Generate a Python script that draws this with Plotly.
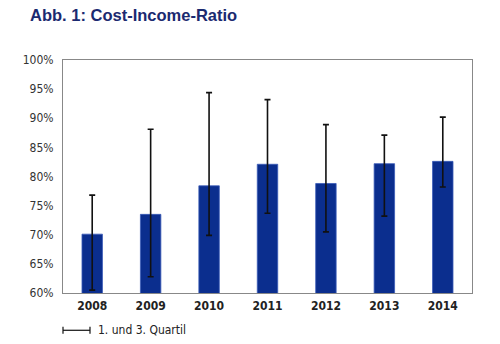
import plotly.graph_objects as go

years = ["2008", "2009", "2010", "2011", "2012", "2013", "2014"]
median = [70.1, 73.5, 78.4, 82.1, 78.8, 82.2, 82.6]
q3 = [76.8, 88.1, 94.4, 93.2, 88.9, 87.1, 90.2]
q1 = [60.5, 62.8, 69.9, 73.7, 70.5, 73.2, 78.2]
yticks = [60, 65, 70, 75, 80, 85, 90, 95, 100]
ytick_text = [f"{v}%" for v in yticks]

err_plus = [h - m for h, m in zip(q3, median)]
err_minus = [m - l for m, l in zip(median, q1)]

font_narrow = "DejaVu Sans Condensed, Liberation Sans Narrow, sans-serif"

fig = go.Figure()
fig.add_trace(go.Bar(
    x=years, y=median, width=0.35,
    marker=dict(color="#0b2e8e", line=dict(color="#3a5ab8", width=0.8)),
    error_y=dict(type="data", symmetric=False, array=err_plus, arrayminus=err_minus,
                 color="#111111", thickness=1.6, width=3),
    showlegend=False,
))

fig.update_layout(
    width=500, height=344,
    margin=dict(l=63, r=28, t=60, b=51),
    paper_bgcolor="white", plot_bgcolor="white",
    bargap=0.65,
    title=dict(text="<b>Abb. 1: Cost-Income-Ratio</b>", x=0.06, xanchor="left",
               y=0.955, yanchor="middle",
               font=dict(family="Liberation Sans, Arial, sans-serif", size=16.5, color="#1b2a70")),
    xaxis=dict(showline=True, linecolor="#888888", linewidth=1, mirror=True,
               ticks="", ticklabelstandoff=2,
               tickfont=dict(family=font_narrow, size=12, color="#222222"),
               tickprefix="<b>", ticksuffix="</b>"),
    yaxis=dict(range=[60, 100], tickvals=yticks, ticktext=ytick_text, showgrid=False,
               showline=True, linecolor="#888888", linewidth=1, mirror=True,
               ticks="", zeroline=False, ticklabelstandoff=6,
               tickfont=dict(family=font_narrow, size=12, color="#333333")),
)

# legend symbol for quartile error bar
fig.add_shape(type="line", xref="paper", yref="paper", x0=0.0, x1=0.066, y0=-0.16, y1=-0.16,
              line=dict(color="#111111", width=1.2))
fig.add_shape(type="line", xref="paper", yref="paper", x0=0.0, x1=0.0, y0=-0.145, y1=-0.175,
              line=dict(color="#111111", width=1.2))
fig.add_shape(type="line", xref="paper", yref="paper", x0=0.066, x1=0.066, y0=-0.145, y1=-0.175,
              line=dict(color="#111111", width=1.2))
fig.add_annotation(text="1. und 3. Quartil", xref="paper", yref="paper", x=0.08, y=-0.16,
                   xanchor="left", yanchor="middle", showarrow=False,
                   font=dict(family=font_narrow, size=12, color="#222222"))

fig.write_html("out.html")
